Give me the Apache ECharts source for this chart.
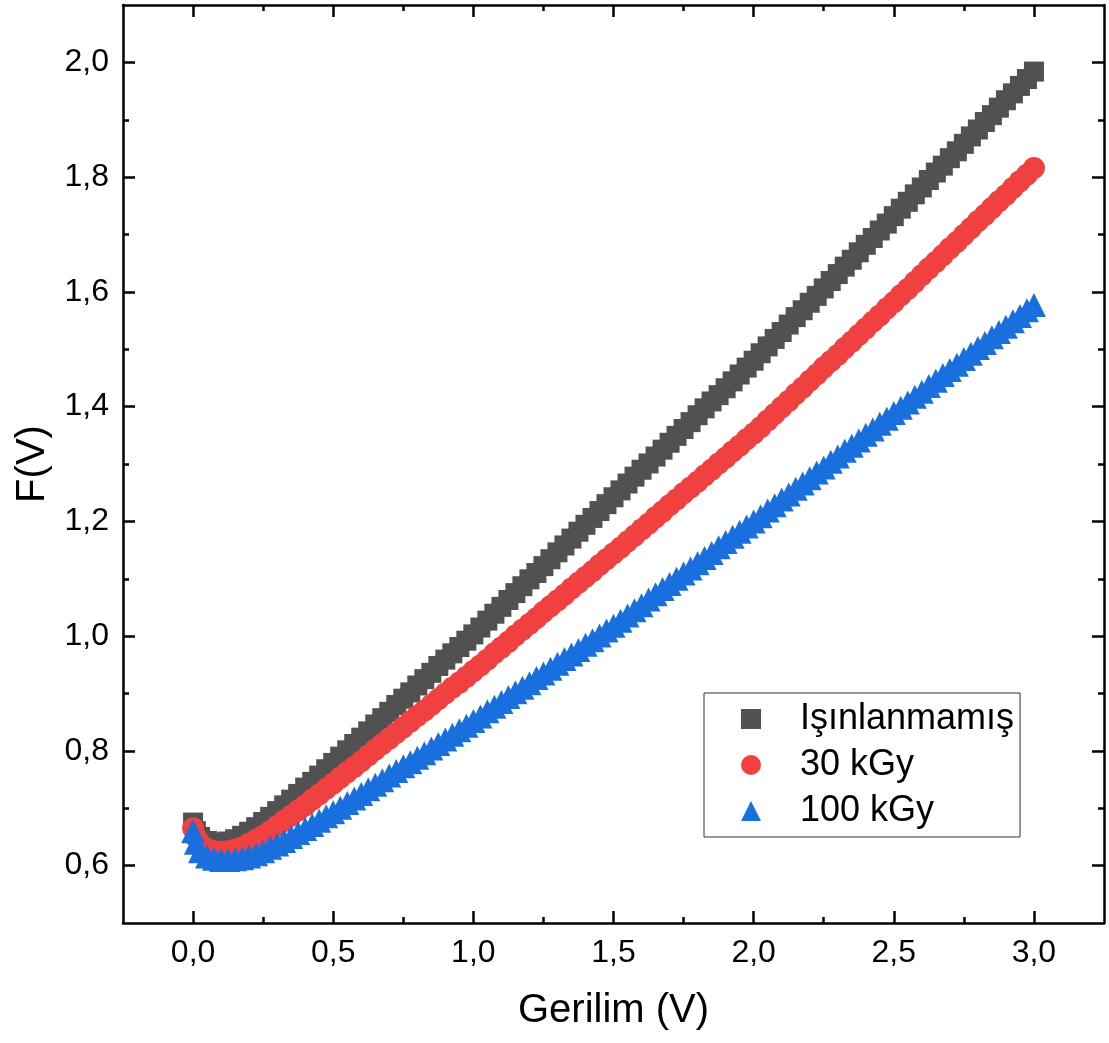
<!DOCTYPE html>
<html>
<head>
<meta charset="utf-8">
<script src="https://cdn.jsdelivr.net/npm/echarts@6/dist/echarts.min.js"></script>
<style>
html,body{margin:0;padding:0;background:#ffffff;}
#chart{width:1109px;height:1043px;}
</style>
</head>
<body>
<div id="chart"></div>
<script>
// ---------- DATA ----------
const seriesNames = ['Işınlanmamış', '30 kGy', '100 kGy'];

const voltage = [
  0, 0.01, 0.025, 0.05, 0.075, 0.1, 0.125, 0.15, 0.175, 0.2, 0.225, 0.25, 0.275, 0.3, 0.325, 0.35, 0.375, 0.4, 0.425, 0.45, 0.475, 0.5,
  0.525, 0.55, 0.575, 0.6, 0.625, 0.65, 0.675, 0.7, 0.725, 0.75, 0.775, 0.8, 0.825, 0.85, 0.875, 0.9, 0.925, 0.95, 0.975, 1.0,
  1.025, 1.05, 1.075, 1.1, 1.125, 1.15, 1.175, 1.2, 1.225, 1.25, 1.275, 1.3, 1.325, 1.35, 1.375, 1.4, 1.425, 1.45, 1.475, 1.5,
  1.525, 1.55, 1.575, 1.6, 1.625, 1.65, 1.675, 1.7, 1.725, 1.75, 1.775, 1.8, 1.825, 1.85, 1.875, 1.9, 1.925, 1.95, 1.975, 2.0,
  2.025, 2.05, 2.075, 2.1, 2.125, 2.15, 2.175, 2.2, 2.225, 2.25, 2.275, 2.3, 2.325, 2.35, 2.375, 2.4, 2.425, 2.45, 2.475, 2.5,
  2.525, 2.55, 2.575, 2.6, 2.625, 2.65, 2.675, 2.7, 2.725, 2.75, 2.775, 2.8, 2.825, 2.85, 2.875, 2.9, 2.925, 2.95, 2.975, 3.0
];

const fUnirradiated = [
  0.675, 0.660, 0.650, 0.643, 0.640, 0.640, 0.642, 0.646, 0.652, 0.659, 0.667, 0.676, 0.685, 0.695, 0.705, 0.715, 0.725, 0.736, 0.746, 0.757, 0.768, 0.779,
  0.790, 0.801, 0.812, 0.823, 0.834, 0.846, 0.857, 0.868, 0.880, 0.891, 0.902, 0.914, 0.925, 0.936, 0.948, 0.959, 0.970, 0.981, 0.992, 1.003,
  1.015, 1.027, 1.039, 1.051, 1.063, 1.075, 1.087, 1.099, 1.110, 1.122, 1.134, 1.146, 1.158, 1.170, 1.182, 1.194, 1.206, 1.218, 1.230, 1.242,
  1.254, 1.266, 1.278, 1.290, 1.301, 1.313, 1.325, 1.337, 1.349, 1.361, 1.373, 1.385, 1.397, 1.409, 1.420, 1.432, 1.444, 1.456, 1.468, 1.480,
  1.493, 1.505, 1.518, 1.530, 1.543, 1.556, 1.568, 1.581, 1.593, 1.606, 1.619, 1.631, 1.644, 1.656, 1.669, 1.682, 1.694, 1.707, 1.719, 1.732,
  1.745, 1.757, 1.770, 1.782, 1.795, 1.808, 1.820, 1.833, 1.845, 1.858, 1.871, 1.883, 1.896, 1.908, 1.921, 1.934, 1.946, 1.959, 1.971, 1.984
];

const f30kGy = [
  0.665, 0.650, 0.638, 0.629, 0.625, 0.624, 0.625, 0.628, 0.632, 0.638, 0.645, 0.652, 0.660, 0.669, 0.678, 0.687, 0.696, 0.705, 0.715, 0.724, 0.734, 0.743,
  0.753, 0.763, 0.772, 0.782, 0.792, 0.802, 0.812, 0.821, 0.831, 0.841, 0.851, 0.861, 0.870, 0.880, 0.890, 0.900, 0.910, 0.919, 0.929, 0.939,
  0.949, 0.959, 0.970, 0.980, 0.990, 1.001, 1.011, 1.021, 1.031, 1.042, 1.052, 1.062, 1.072, 1.083, 1.093, 1.103, 1.113, 1.124, 1.134, 1.144,
  1.154, 1.165, 1.175, 1.186, 1.196, 1.207, 1.217, 1.228, 1.238, 1.249, 1.259, 1.269, 1.280, 1.290, 1.301, 1.311, 1.322, 1.332, 1.343, 1.353,
  1.364, 1.376, 1.387, 1.399, 1.410, 1.422, 1.433, 1.445, 1.456, 1.468, 1.479, 1.490, 1.502, 1.513, 1.525, 1.536, 1.548, 1.559, 1.571, 1.582,
  1.594, 1.605, 1.617, 1.629, 1.641, 1.652, 1.664, 1.676, 1.687, 1.699, 1.711, 1.723, 1.734, 1.746, 1.758, 1.769, 1.781, 1.793, 1.804, 1.816
];

const f100kGy = [
  0.660, 0.640, 0.625, 0.616, 0.612, 0.610, 0.610, 0.611, 0.613, 0.616, 0.620, 0.625, 0.631, 0.637, 0.643, 0.650, 0.657, 0.664, 0.671, 0.678, 0.686, 0.693,
  0.701, 0.709, 0.717, 0.725, 0.733, 0.741, 0.749, 0.757, 0.765, 0.773, 0.780, 0.788, 0.796, 0.804, 0.812, 0.820, 0.828, 0.836, 0.844, 0.852,
  0.860, 0.869, 0.877, 0.885, 0.894, 0.902, 0.910, 0.918, 0.927, 0.935, 0.943, 0.952, 0.960, 0.968, 0.976, 0.985, 0.993, 1.001, 1.010, 1.018,
  1.027, 1.036, 1.045, 1.054, 1.064, 1.073, 1.082, 1.091, 1.100, 1.109, 1.118, 1.127, 1.136, 1.145, 1.155, 1.164, 1.173, 1.182, 1.191, 1.200,
  1.209, 1.219, 1.228, 1.238, 1.247, 1.257, 1.266, 1.275, 1.285, 1.294, 1.304, 1.313, 1.323, 1.332, 1.341, 1.351, 1.360, 1.370, 1.379, 1.389,
  1.398, 1.407, 1.417, 1.426, 1.436, 1.445, 1.455, 1.464, 1.473, 1.483, 1.492, 1.502, 1.511, 1.521, 1.530, 1.539, 1.549, 1.558, 1.568, 1.577
];

const xMajorTicks = [0, 0.5, 1.0, 1.5, 2.0, 2.5, 3.0];
const xMinorTicks = [0.25, 0.75, 1.25, 1.75, 2.25, 2.75];
const yMajorTicks = [0.6, 0.8, 1.0, 1.2, 1.4, 1.6, 1.8, 2.0];
const yMinorTicks = [0.7, 0.9, 1.1, 1.3, 1.5, 1.7, 1.9];

// ---------- CHART ----------
const FONT = "'Liberation Sans', Arial, Helvetica, sans-serif";
const fmt = v => Number(v).toFixed(1).replace('.', ',');

function xAxisDef(position, ticks, tickLen, showLine, showLabels, extra) {
  return Object.assign({
    type: 'value', gridIndex: 0, position: position,
    min: -0.25, max: 3.25, interval: 0.25,
    axisLine: { show: showLine, onZero: false, lineStyle: { color: '#000', width: 2.5 } },
    axisTick: { show: true, inside: true, length: tickLen, customValues: ticks, lineStyle: { color: '#000', width: 2.5 } },
    axisLabel: showLabels
      ? { show: true, customValues: xMajorTicks, formatter: fmt, fontSize: 32, color: '#000', fontFamily: FONT, margin: 14 }
      : { show: false },
    splitLine: { show: false }
  }, extra || {});
}

function yAxisDef(position, ticks, tickLen, showLine, showLabels, extra) {
  return Object.assign({
    type: 'value', gridIndex: 0, position: position,
    min: 0.5, max: 2.1, interval: 0.1,
    axisLine: { show: showLine, onZero: false, lineStyle: { color: '#000', width: 2.5 } },
    axisTick: { show: true, inside: true, length: tickLen, customValues: ticks, lineStyle: { color: '#000', width: 2.5 } },
    axisLabel: showLabels
      ? { show: true, customValues: yMajorTicks, formatter: fmt, fontSize: 32, color: '#000', fontFamily: FONT, margin: 14 }
      : { show: false },
    splitLine: { show: false }
  }, extra || {});
}

const chart = echarts.init(document.getElementById('chart'), null, { renderer: 'canvas' });

const option = {
  backgroundColor: '#ffffff',
  animation: false,
  textStyle: { fontFamily: FONT, color: '#000' },
  grid: { left: 123, top: 5, width: 981, height: 918, containLabel: false },
  xAxis: [
    xAxisDef('bottom', xMajorTicks, 12, true, true, {
      name: 'Gerilim (V)', nameLocation: 'middle', nameGap: 68,
      nameTextStyle: { fontSize: 40, color: '#000', fontFamily: FONT }
    }),
    xAxisDef('bottom', xMinorTicks, 6, false, false),
    xAxisDef('top', xMajorTicks, 12, true, false),
    xAxisDef('top', xMinorTicks, 6, false, false)
  ],
  yAxis: [
    yAxisDef('left', yMajorTicks, 12, true, true, {
      name: 'F(V)', nameLocation: 'middle', nameGap: 70, nameRotate: 90,
      nameTextStyle: { fontSize: 40, color: '#000', fontFamily: FONT }
    }),
    yAxisDef('left', yMinorTicks, 6, false, false),
    yAxisDef('right', yMajorTicks, 12, true, false),
    yAxisDef('right', yMinorTicks, 6, false, false)
  ],
  legend: {
    orient: 'vertical',
    left: 704, top: 693,
    padding: [8, 6, 8, 37],
    itemGap: 10,
    itemWidth: 20, itemHeight: 20,
    borderColor: '#333', borderWidth: 1,
    backgroundColor: '#ffffff',
    selectedMode: false,
    textStyle: { fontSize: 36, color: '#000', fontFamily: FONT, padding: [0, 0, 0, 34] },
    data: [
      { name: seriesNames[0], icon: 'rect', itemStyle: { opacity: 1 } },
      { name: seriesNames[1], icon: 'circle', itemStyle: { opacity: 1 } },
      { name: seriesNames[2], icon: 'triangle', itemStyle: { opacity: 1 } }
    ]
  },
  series: [
    {
      type: 'scatter', name: seriesNames[0], xAxisIndex: 0, yAxisIndex: 0,
      data: voltage.map((v, i) => [v, fUnirradiated[i]]),
      symbol: 'rect', symbolSize: 20,
      itemStyle: { color: '#515151', opacity: 1 }, silent: true, emphasis: { disabled: true }
    },
    {
      type: 'scatter', name: seriesNames[1], xAxisIndex: 0, yAxisIndex: 0,
      data: voltage.map((v, i) => [v, f30kGy[i]]),
      symbol: 'circle', symbolSize: 22,
      itemStyle: { color: '#F14040', opacity: 1 }, silent: true, emphasis: { disabled: true }
    },
    {
      type: 'scatter', name: seriesNames[2], xAxisIndex: 0, yAxisIndex: 0,
      data: voltage.map((v, i) => [v, f100kGy[i]]),
      symbol: 'triangle', symbolSize: 24,
      itemStyle: { color: '#1A6FDF', opacity: 1 }, silent: true, emphasis: { disabled: true }
    }
  ]
};

chart.setOption(option);
</script>
</body>
</html>
